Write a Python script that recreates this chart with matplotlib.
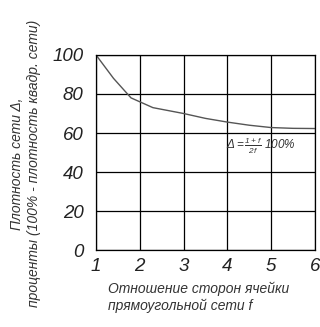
import matplotlib
matplotlib.use("Agg")
import matplotlib.pyplot as plt

# Curve
ratio_f = [1.0, 1.4, 1.8, 2.3, 3.0, 3.5, 4.0, 4.5, 5.0, 5.5, 6.0]
density = [100, 88, 78, 73, 70, 67.5, 65.6, 64, 62.8, 62.4, 62.3]

x_ticks = [1, 2, 3, 4, 5, 6]
y_ticks = [0, 20, 40, 60, 80, 100]

plt.rcParams['font.family'] = ['Liberation Sans', 'DejaVu Sans']
plt.rcParams['font.style'] = 'italic'
plt.rcParams['mathtext.fontset'] = 'custom'
plt.rcParams['mathtext.rm'] = 'Liberation Sans:italic'
plt.rcParams['mathtext.it'] = 'Liberation Sans:italic'

fig = plt.figure(figsize=(3.2, 3.27), dpi=100)
ax = fig.add_axes([0.30, 0.235, 0.684, 0.597])

ax.plot(ratio_f, density, color='#555555', lw=1.0)
ax.set_xlim(1, 6)
ax.set_ylim(0, 100)
ax.set_xticks(x_ticks)
ax.set_yticks(y_ticks)
ax.tick_params(length=0, labelsize=13.5, labelcolor='#222222')
ax.tick_params(axis='x', pad=6)
ax.tick_params(axis='y', pad=9)
ax.grid(True, color='black', lw=0.9)
for s in ax.spines.values():
    s.set_linewidth(0.9)

ax.text(3.98, 53.5, r'$\Delta = \frac{1+f}{2f}$ 100%', fontsize=8.5,
        color='#333333', va='center')

fig.text(0.337, 0.09, 'Отношение сторон ячейки\nпрямоугольной сети f',
         fontsize=10, color='#333333', va='center', ha='left',
         linespacing=1.25)
fig.text(0.08, 0.5, 'Плотность сети Δ,\nпроценты (100% - плотность квадр. сети)',
         fontsize=10, color='#333333', rotation=90,
         va='center', ha='center', linespacing=1.25)

fig.savefig('out.png', dpi=100)
